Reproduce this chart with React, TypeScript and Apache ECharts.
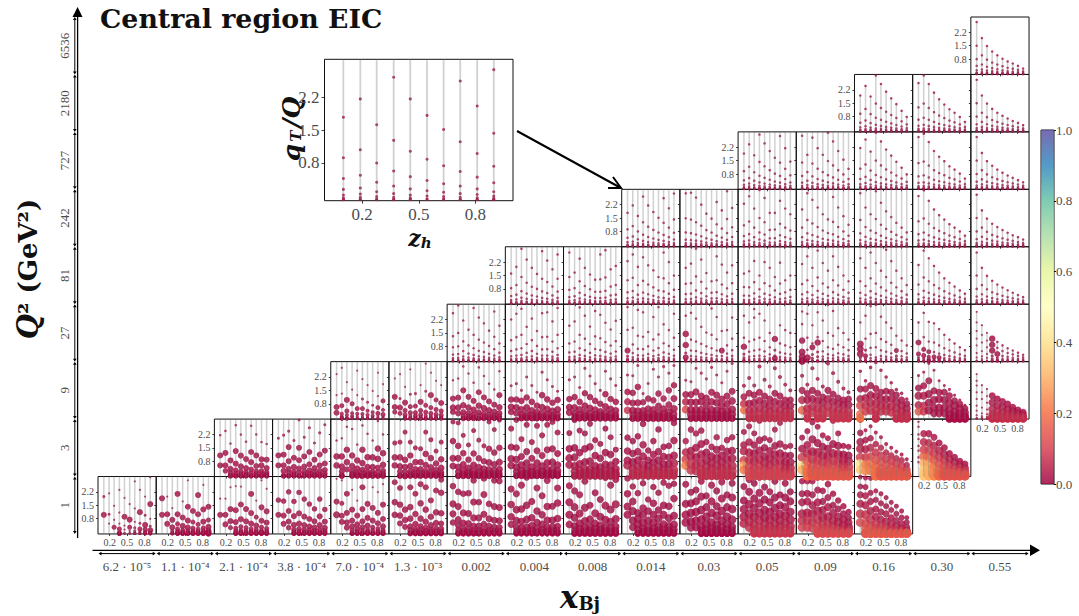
import React, { useEffect, useRef } from "react";
import * as echarts from "echarts";

const zBins = [0.1, 0.19, 0.277, 0.367, 0.455, 0.544, 0.632, 0.72, 0.81, 0.898];
const xLabels = ["6.2 · 10⁻⁵","1.1 · 10⁻⁴","2.1 · 10⁻⁴","3.8 · 10⁻⁴","7.0 · 10⁻⁴","1.3 · 10⁻³","0.002","0.004","0.008","0.014","0.03","0.05","0.09","0.16","0.30","0.55"];
const q2Labels = ["1","3","9","27","81","242","727","2180","6536"];
const panelTicks = [0.2, 0.5, 0.8];
const qtTicks = [0.8, 1.5, 2.2];
const colorbarTicks = [0, 0.2, 0.4, 0.6, 0.8, 1];
const spectral = ["#9e0142","#d53e4f","#f46d43","#fdae61","#fee08b","#ffffbf","#e6f598","#abdda4","#66c2a5","#3288bd","#5e4fa2"];
const rowStarts = [0, 2, 4, 6, 7, 9, 11, 13, 15];
const lineStopCols = [[12,13],[12,13,14],[13,14,15],[14,15],[14,15],[14,15],[13,14,15],[13,14,15],[15]];
// lowest qT/Q bins (hundredths), crowded against the bottom of the panels
const bottomRungs = [6, 3, 2];

// qT/Q (in hundredths), one list per zh bin
const row0 = [
[[195,100],[212,103,54],[147,74,35],[230,112,54,26],[188,90,44,23],[156,75,35,16],[275,133,63,32,16],[230,114,56,26,13],[195,98,47,25,12],[296,156,79,40,19,10]],
[[186,100],[195,103,53],[135,74,35,17],[209,103,53,26,13],[170,86,42,20,10],[280,142,70,33,16,8],[120,62,30,15,8],[203,103,50,25,12],[256,128,64,31,16,8],[142,73,37,18,9]],
[[184,100],[184,100,50],[244,130,67,33],[250,124,62,30,15],[247,154,77,38,19,9],[130,66,33,16,8],[209,109,54,27,13],[174,88,44,22,11],[280,139,69,35,17,9],[236,118,59,29,15,7]],
[[177,100],[172,96,53],[220,120,65,33],[170,93,47,23,12],[217,108,54,27,13],[182,91,46,22,11],[156,78,39,20,10],[131,66,33,17,8],[182,92,46,23,11],[128,64,32,16,8]],
[[288,169,100],[280,160,95,63],[210,110,60,33],[230,127,70,40,20],[174,96,50,26,13],[244,130,66,35,17],[157,84,44,22,11],[244,136,70,35,18],[218,110,56,28,14],[260,153,78,40,20,10]],
[[270,166,100],[240,153,96,55],[300,127,73,37],[244,140,80,40,20],[210,104,52,26,13],[260,160,80,40,20,10],[244,127,64,32,16],[175,90,45,23,11],[227,113,57,28,14],[283,215,108,54,27,13]],
[[250,157,105,60],[220,143,75,45,22],[210,110,57,29,15],[213,107,55,28,14],[280,167,84,42,21,10],[166,84,42,21,10],[290,206,103,52,26,13],[157,79,40,20,10],[280,143,72,36,18,9],[276,138,69,35,17,9]],
[[235,154,90,50],[210,127,70,36,18],[255,130,65,33,17],[296,150,76,38,19,10],[170,85,43,22,11],[240,120,60,30,15],[200,100,50,25,13],[280,143,72,36,18,9],[145,72,36,18,9],[240,162,81,40,20,10]],
[[252,166,100,50],[225,140,85,42,21],[205,107,55,28,14],[275,137,68,34,17],[150,76,38,19,10],[215,108,54,27,13],[180,90,45,23,11],[295,148,74,37,18,9],[255,128,64,32,16],[285,155,78,39,20,10]],
[[290,210,143,100],[248,170,120,70,35],[213,110,80,50,25],[265,135,100,60,30,15],[180,120,70,35,18],[245,160,100,60,30,15],[215,125,80,40,20,10],[268,150,100,50,25,12],[252,145,82,41,20,10],[262,185,95,50,25,12]],
[[260,157,100,60],[218,160,110,65,33],[230,170,115,70,35],[275,195,125,75,38,19],[200,140,90,50,25],[255,170,110,60,30,15],[225,145,95,50,25,12],[272,185,120,70,35,17],[205,140,90,50,25],[265,190,130,75,38,19]],
[[248,175,130,90,55],[285,220,155,105,65,33],[265,185,135,90,50,25],[296,215,160,110,70,35,18],[245,180,125,85,50,25],[220,165,115,75,40,20],[275,190,135,90,50,25],[205,150,105,70,40,20],[265,190,140,95,55,28],[220,170,115,75,40,20]],
[[275,210,165,105,70,35],[276,212,170,110,70,35],[276,205,150,105,60,30],[295,230,165,120,75,40,20],[225,170,125,85,50,25],[260,190,140,90,50,25],[210,150,110,70,40,20],[175,130,90,60,30,15],[145,105,75,45,25,12],[115,85,60,35,18,9]],
[[297,248,205,158,105,60],[292,245,200,150,100,55,28],[290,215,170,120,75,40,20],[225,178,130,90,50,25],[210,160,115,75,40,20],[190,145,105,65,35,18],[165,125,85,50,25],[145,105,70,40,20],[120,85,55,30,15],[85,60,35,18,9]],
];
const row1 = [
[[216,110,58],[238,123,58,30],[172,84,40,20],[268,133,67,33,17],[219,109,53,27,13],[182,91,44,22,11],[265,128,75,37,18],[220,110,55,28,14],[180,90,58,29,15],[170,88,44,22,11]],
[[200,110,58],[216,114,58,29],[237,154,80,40,20],[188,98,50,25,12],[295,150,85,42,21],[205,105,52,26,13],[255,128,64,32,16],[175,88,44,22,11],[228,115,58,29,14],[270,135,68,34,17]],
[[188,105,58],[200,105,52,26],[260,140,75,37],[248,110,55,28,14],[167,84,42,21,10],[267,140,70,35,18],[223,101,50,25,13],[188,100,50,25,12],[290,146,92,46,23],[220,122,61,30,15]],
[[175,100,58],[180,100,53,26],[232,87,50,25],[180,110,55,28,14],[150,75,38,19,9],[145,75,38,19,9],[232,118,60,30,15],[192,96,48,24,12],[133,68,34,17,9],[180,90,45,22,11]],
[[285,185,95,55],[280,160,95,50,25],[215,122,62,31,15],[165,88,44,22,11],[240,120,60,30,15],[190,95,48,24,12],[160,80,40,20,10],[285,145,73,36,18],[245,125,63,31,16],[295,150,75,38,19,9]],
[[250,154,93,58],[296,150,89,50,25],[195,105,60,30,15],[270,130,70,35,18],[180,95,50,25,12],[265,135,70,35,18],[215,110,55,28,14],[270,140,72,36,18,9],[285,145,75,38,19,9],[230,120,60,30,15]],
[[227,145,96,61],[295,150,100,55,28],[240,125,65,33,17],[225,145,75,38,19],[275,155,80,40,20,10],[190,110,55,28,14],[170,95,48,24,12],[250,125,63,31,16],[205,115,58,29,14],[140,78,40,20,10]],
[[203,133,84,58],[185,120,75,40,20],[210,130,85,50,25],[275,166,105,60,30,15],[136,85,55,30,15],[185,115,75,40,20],[246,130,85,50,25],[155,105,65,35,18],[160,100,65,35,18],[280,188,110,70,35,18]],
[[185,127,90,58],[245,135,105,65,33],[225,150,100,60,30],[240,170,115,70,35,18],[180,125,85,50,25],[155,105,70,40,20],[205,140,95,55,28],[150,110,75,45,22],[190,130,90,50,25],[205,135,95,55,28]],
[[233,165,133,84,58,35],[262,180,125,85,50,25],[225,165,120,80,45,22],[290,190,135,90,55,28],[200,150,105,70,40,20],[190,135,95,60,30,15],[245,160,115,75,40,20],[280,170,120,80,45,22],[155,110,75,45,22],[160,110,75,45,22]],
[[203,145,100,58,35],[237,165,120,80,45,22],[282,195,130,90,50,25],[260,175,125,85,50,25],[215,155,110,75,40,20],[200,145,105,70,40,20],[290,170,120,80,45,22],[225,160,115,75,40,20],[160,115,80,50,25],[155,110,80,50,25]],
[[290,228,180,145,100,66,35],[242,190,142,100,62,30],[262,200,150,105,65,32],[230,170,125,85,50,25],[205,150,110,75,40,20],[170,125,90,55,28],[150,110,80,50,25],[130,95,65,38,19],[115,85,55,30,15],[90,60,35,18,9]],
[[286,260,220,196,160,135,100,75],[224,180,140,105,70,38,18],[224,175,135,100,65,35,18],[205,160,120,85,50,25],[175,135,100,65,35,18],[150,115,85,55,28],[120,90,60,35,18],[100,75,50,28,14],[80,60,40,22,11],[65,45,30,15]],
];
const row2 = [
[[235,125,63,33],[268,133,70,28,14],[193,100,42,21],[154,80,30,15,8],[253,125,55,28,14],[209,105,55,27,13],[177,88,44,22,11],[147,72,36,18,9],[242,120,60,30,15],[182,95,48,24,12]],
[[212,116,63,37],[235,107,60,30],[168,86,45,22,11],[260,130,65,33,16],[133,68,34,17,8],[177,90,45,22,11],[290,145,72,36,18],[242,125,60,30,15],[200,100,50,25,12],[177,84,42,21,10]],
[[203,107,60,37],[212,112,60,30],[275,150,72,36,18],[238,116,60,30,15],[190,95,48,24,12],[270,140,70,35,18],[225,113,57,28,14],[185,92,46,23,11],[155,75,38,19,9],[250,125,62,31,15]],
[[174,102,63,37],[185,102,60,30],[150,95,50,25,13],[220,113,60,30,15],[175,90,45,23,11],[140,70,35,18,9],[245,125,62,31,15],[205,103,52,26,13],[170,85,42,21,11],[145,100,50,25,12]],
[[205,105,62,35],[220,115,60,30,15],[165,90,50,25,12],[265,135,70,35,18],[225,115,58,29,14],[185,95,48,24,12],[150,80,40,20,10],[250,130,65,33,16],[210,105,53,26,13],[175,90,45,23,11]],
[[230,142,91,46],[226,137,84,45,22],[280,168,85,42,21],[133,88,45,22,11],[186,107,54,27,13],[260,98,50,25,13],[220,133,68,34,17],[274,107,54,27,14],[240,150,75,38,19],[280,177,107,54,27]],
[[203,128,90,50],[195,128,88,48,24],[265,142,88,48,24],[240,120,90,48,24],[210,110,75,40,20],[270,140,90,48,24],[230,125,85,45,22],[190,105,70,38,19],[250,120,80,42,21],[290,145,95,50,25]],
[[174,116,80,46],[215,135,80,45,22],[175,125,85,48,24],[275,140,95,55,28],[205,120,80,45,22],[170,105,70,40,20],[265,135,90,50,25],[220,120,80,45,22],[180,100,70,40,20],[150,100,70,40,20]],
[[226,150,100,46],[180,133,100,55,28],[265,150,105,65,33],[210,135,95,55,28],[170,115,85,50,25],[290,150,105,65,33],[240,130,90,50,25],[195,110,80,45,22],[160,100,75,40,20],[140,105,75,40,20]],
[[250,157,105,70,26],[200,157,110,70,40],[270,175,125,85,45],[295,160,120,80,45,22],[255,140,105,70,40],[220,145,105,70,40],[190,140,105,65,35],[155,125,90,55,28],[135,100,70,40,20],[105,80,55,30,15]],
[[227,162,122,73,40],[245,174,122,70,40],[290,200,131,85,45],[255,148,100,60,30],[200,140,105,60,30],[175,140,100,60,30],[155,122,85,50,25],[125,96,70,40,20],[100,78,55,30,15],[72,55,35,18,9]],
[[235,200,175,140,105,70,44,20],[177,140,105,60,30,15],[157,120,85,50,25,12],[122,87,52,26,13],[105,70,40,20,10],[92,62,35,18,9],[78,52,30,15],[61,42,24,12],[47,32,18,9],[35,22,12,6]],
];
const row3 = [
[[253,133,75,37,18,9],[293,150,80,40,20,10],[215,106,55,27,13,7],[167,85,42,21,10],[280,140,70,35,17,9],[230,115,57,28,14,7],[200,100,50,25,12],[162,82,41,20,10],[262,130,65,32,16,8],[188,95,47,23,12,6]],
[[220,112,56,28,14,7],[250,128,64,32,16,8],[276,140,70,35,17,9],[182,92,46,23,11,6],[225,112,56,28,14,7],[160,82,41,20,10],[253,128,64,32,16,8],[258,130,65,32,16,8],[210,105,52,26,13],[280,140,70,35,18,9]],
[[188,95,48,24,12,6],[210,105,52,26,13,7],[283,140,70,35,18,9],[240,120,60,30,15,8],[183,92,46,23,11,6],[265,132,66,33,16,8],[245,122,61,30,15,8],[203,102,51,25,13],[168,84,42,21,11],[213,107,53,27,13,7]],
[[285,166,58,28,14,7],[177,90,45,22,11,6],[270,135,67,33,16,8],[258,130,65,32,16,8],[155,80,40,20,10],[233,116,58,29,15,7],[285,142,71,35,18,9],[195,96,48,24,12],[165,82,41,20,10],[250,125,62,31,15,8]],
[[240,145,87,45,22,11],[255,115,58,29,14,7],[225,105,55,27,13,7],[182,93,46,23,12,6],[152,80,40,20,10],[278,140,70,35,18,9],[233,117,58,29,14,7],[160,58,29,14,7],[165,85,42,21,11],[230,120,60,30,15,7]],
[[240,125,78,39,20,10],[205,105,52,26,13,7],[275,230,115,58,29,14],[250,125,63,31,16,8],[215,108,54,27,14,7],[300,150,75,38,19,9],[118,60,30,17,9],[190,95,48,24,12],[165,85,42,21,11],[150,75,38,19,9]],
[[262,196,110,50,25],[250,125,62,20,10],[190,95,75,37,18],[258,128,100,50,25],[215,108,54,27,13],[296,150,75,38,19],[265,135,67,33,17],[175,88,44,22,11],[150,75,38,19,10],[115,60,30,15,8]],
[[205,92,66,40,20],[240,120,60,30,15],[290,145,72,36,18],[296,150,75,22,11],[235,118,59,30,15],[205,103,52,26,13],[175,88,44,22,11],[135,58,29,15,7],[110,55,28,14,7],[85,43,22,11,6]],
[[205,100,40,20,10],[255,128,64,32,16],[208,105,52,26,13],[200,100,50,25,12],[170,85,42,21,11],[140,70,35,18,9],[115,58,29,15,7],[95,48,24,12,6],[75,38,19,10],[60,30,15,8]],
[[260,205,160,120,85,45,22],[190,140,100,55,28,14],[150,110,75,40,20],[120,88,58,30,15],[103,72,40,20,10],[85,55,30,15,8],[70,45,25,13],[58,38,20,10],[47,30,15,8],[36,22,12,6]],
];
const row4 = [
[[160,84,43,21,11,6],[195,100,50,25,12,6],[290,142,68,34,17,8],[233,112,56,28,14,7],[190,91,46,23,11,6],[158,80,40,20,10,5],[277,133,67,33,16,8],[228,116,58,29,14,7],[182,92,46,23,11,6],[260,133,66,33,16,8]],
[[270,142,75,37,18,9],[165,84,42,21,10,5],[238,120,60,30,15,7],[190,95,48,24,12,6],[155,78,39,20,10],[128,65,33,16,8],[260,130,65,32,16,8],[282,140,70,35,18,9],[182,92,46,23,11,6],[200,100,50,25,13,6]],
[[225,125,62,31,15,8],[260,138,69,35,17,9],[195,100,50,25,12,6],[245,122,61,30,15,8],[203,103,52,26,13,6],[177,88,44,22,11,6],[142,72,36,18,9],[270,135,67,33,17,8],[220,110,55,28,14,7],[150,76,38,19,10]],
[[190,107,53,26,13,7],[212,110,55,28,14,7],[290,145,72,36,18,9],[233,117,58,29,15,7],[163,82,41,20,10],[120,60,30,15,8],[250,125,63,31,16,8],[207,103,52,26,13,6],[165,83,41,21,10],[203,110,55,27,14,7]],
[[160,90,45,22,11,6],[172,88,44,22,11,6],[226,115,57,28,14,7],[150,78,39,20,10],[220,110,55,28,14,7],[190,95,48,24,12,6],[142,72,36,18,9],[217,108,54,27,14,7],[125,62,31,15,8],[150,75,38,19,9]],
[[210,105,52,26,13,7],[250,125,63,31,16,8],[190,95,48,24,12,6],[280,140,70,35,18,9],[215,108,54,27,14],[175,88,44,22,11],[250,125,63,31,15],[195,98,49,25,12],[150,75,38,19,10],[120,60,30,15,8]],
[[240,120,60,30,15,8],[190,95,48,24,12,6],[270,135,68,34,17,8],[215,108,54,27,14],[175,88,44,22,11],[285,142,71,35,18],[225,112,56,28,14],[175,88,44,22,11],[135,68,34,17,8],[100,50,25,13]],
[[205,103,52,26,13,6],[280,140,70,35,18,9],[240,120,60,30,15,8],[200,100,50,25,13],[165,83,41,21,10],[135,68,34,17,8],[112,56,28,14,7],[92,46,23,12],[72,36,18,9],[55,28,14,7]],
[[270,150,80,40,20,10],[190,100,52,26,13,6],[148,78,40,20,10],[122,62,32,16,8],[103,53,27,14,7],[87,44,22,11],[73,37,19,9],[60,31,16,8],[48,25,12,6],[37,19,10]],
];
const row5 = [
[[177,91,47,24,12,6],[216,108,54,27,14,7],[161,80,39,19,9,4],[262,128,63,31,15,7],[216,105,51,25,12,6],[181,88,43,21,10,4],[151,74,36,18,9,4],[254,125,62,31,15,7],[201,100,50,25,13,6],[278,143,73,38,19,10,5]],
[[279,149,75,37,19,9],[282,142,71,35,18,9],[257,128,64,32,16,8],[220,110,55,28,14,7],[173,87,44,22,11,6],[147,74,37,18,9,5],[234,117,58,29,15,7],[190,95,48,24,12,6],[290,145,72,36,18,9],[203,102,51,25,13,6]],
[[225,112,56,28,14,7],[264,132,66,33,16,8],[200,100,50,25,13,6],[296,150,75,38,19,9],[255,128,64,32,16,8],[177,88,44,22,11,6],[177,90,45,22,11,6],[240,120,60,30,15,8],[200,100,50,25,13],[170,85,42,21,11,5]],
[[195,100,50,25,13,6],[280,140,70,35,18,9],[245,122,61,30,15,8],[205,103,52,26,13,6],[170,85,42,21,11,5],[143,72,36,18,9],[260,130,65,32,16,8],[205,103,52,26,13],[160,80,40,20,10],[115,58,29,15,7]],
[[280,140,70,35,18,9],[205,103,52,26,13,6],[170,85,42,21,11,5],[290,145,72,36,18,9],[230,115,58,29,14,7],[185,93,46,23,12],[155,78,39,20,10],[125,62,31,16,8],[100,50,25,13],[75,38,19,10]],
[[265,133,66,33,17,8],[295,148,74,37,18,9],[240,120,60,30,15,8],[195,98,49,25,12],[165,83,41,21,10],[142,71,36,18,9],[118,59,30,15,7],[100,50,25,13],[80,40,20,10],[58,29,15,7]],
[[272,150,80,40,20,10],[190,100,52,26,13,6],[147,78,40,20,10],[120,62,32,16,8],[103,53,27,14,7],[87,44,22,11],[73,37,19,9],[60,31,16,8],[50,25,13,6],[38,19,10]],
];
const row6 = [
[[187,95,47,24,12,6],[235,118,59,30,15,7],[178,89,45,22,11,6],[286,143,71,36,18,9],[240,120,60,30,15,8],[200,100,50,25,13,6],[165,82,41,21,10,5],[278,139,70,35,17,9],[215,107,54,27,13,7],[145,73,36,18,9,5]],
[[280,140,70,35,18,9],[180,90,45,23,11,6],[270,135,68,34,17,8],[215,108,54,27,14,7],[180,90,45,23,11,6],[296,148,74,37,18,9],[250,125,62,31,16,8],[200,100,50,25,13],[155,78,39,20,10],[107,54,27,14,7]],
[[216,108,54,27,14,7],[260,130,65,33,16,8],[197,98,49,25,12,6],[296,150,75,38,19,9],[250,125,63,31,16,8],[208,104,52,26,13],[176,88,44,22,11],[144,72,36,18,9],[113,57,28,14,7],[78,39,20,10]],
[[273,137,68,34,17,9],[290,145,73,36,18,9],[247,124,62,31,15,8],[200,100,50,25,13],[170,85,42,21,11],[147,74,37,18,9],[120,60,30,15,8],[103,52,26,13],[82,41,20,10],[56,28,14,7]],
[[273,150,80,40,20,10],[190,100,52,26,13,6],[147,78,40,20,10],[123,63,32,16,8],[103,53,27,14,7],[87,44,22,11],[72,37,19,9],[60,31,16,8],[48,25,12,6],[37,19,10]],
];
const row7 = [
[[190,95,48,24,12,6],[240,120,60,30,15,8],[185,93,46,23,12,6],[295,148,74,37,18,9],[250,125,63,31,16,8],[210,105,53,26,13],[175,88,44,22,11],[145,73,36,18,9],[110,55,28,14,7],[78,39,20,10]],
[[255,128,64,32,16,8],[295,148,74,37,18,9],[250,125,63,31,16,8],[205,103,52,26,13],[170,85,42,21,11],[143,72,36,18,9],[118,59,30,15,8],[100,50,25,13],[78,39,20,10],[52,26,13,7]],
[[272,150,80,40,20,10],[190,100,52,26,13,6],[148,77,40,20,10],[120,62,32,16,8],[100,52,27,14,7],[84,43,22,11],[70,36,18,9],[57,30,15,8],[47,24,12,6],[35,18,9]],
];
const row8 = [
[[274,150,80,45,22,10],[190,100,52,26,13,6],[148,77,40,20,10],[120,62,33,17,8],[100,52,27,14,7],[82,43,22,11],[68,35,18,9],[57,30,15,8],[45,24,12,6],[31,16,8]],
];
const rowsY = [row0, row1, row2, row3, row4, row5, row6, row7, row8];

// Marker diameters: a number (whole panel), a list (by rung) or a list of lists (by zh bin; last entry repeats)
const S = 2.5;
const sizes0 = [
[[3,6],[2,3,2],[2,2,5],[2,2,2,5],[2,6,2,2],[2,6,5,2],[2,2,2,3,3],[2,6,3,5,3],[2,3,6,5,4],[2,6,2,3,6,4]],
[[6,6],[2,6,6],[2,6,6,4],[6,6,5,5,5],[2,6,6,5,5],[2,6,6,6,5,5],[6,5,5,5,5],[6,6,5,5,5],[2,6,6,5,5,5],[6,5,6,6,6]],
[[2,6],[2,6,6],[2,6,6,5],[2,6,6,5,5],[2,6,6,5,5,5],[6,6,5,5,5],[6,6,6,5,5],[2,5,6,5,5],[2,6,6,5,5,5],[2,6,6,5,5,5]],
[5.5,6,6,5.5,5,5],
[[2,6,7],[2,5,6,6],[6,6,6,6],[2,6,6,6,5],[2,6,6,6,5],[6,6,6,6,5],[6,6,6,5,5],[2,6,6,5,5],[2,6,6,5,5],[2,6,6,6,5,5]],
[6,6.5,6.5,6,6,5.5],[6.5,7,7,6.5,6,6],[7,7.5,7.5,7,6.5,6],[7,8,8,7.5,7,6.5],[6.5,7.5,8,8,7.5,7,6.5],[7,8,8.5,8.5,8,7.5,7],[7,8,8.5,9,9,8.5,8],[6.5,7,8,9,9,9,8.5],[5,6,7,8,9,9,9],
];
const sizes1 = [
[2.5,6,6,5.5,5.5,5],[3,6,6,6,5.5,5],[2.5,6.5,6.5,6,6,5.5],[5,6.5,6.5,6,6,5.5],[5,6.5,7,7,6.5,6],[6,7,7.5,7.5,7,6.5,6],[6,7.5,8,8,8,7.5,7],[6.5,7.5,8,8.5,8.5,8,7],[6.5,8,8.5,9,9,8.5,8],[6,7.5,8.5,9,9,9,8.5],[6,8,9,9.5,9.5,9.5,9],[4,6.5,8,8.5,9,9.5,9],
[[2.5],[7,8,8.5,9,9,9]],
];
const sizes2 = [
[[2,2,6,6],[2,2,5,4],[2,6,5,4],[2,5,4,4,3],[2,2,5,4,3],[2,3,5,4,3],[2,3,4,4,3],[2,3,4,4,3],[2,2,5,5,3],[2,5,4,5,3]],
[[2,6,6,5],[2,3,6,5],[2,6,5,5,4],[2,3,5,5,4],[3,5,5,5,4],[2,6,5,5,4],[2,3,5,5,4],[2,6,5,5,4],[2,5,5,5,4],[2,6,5,5,4]],
[2.5,6,6.5,6,5.5,5],[3,6.5,7,6.5,6,5.5],[3,6.5,7,7,6.5,6],[3,6.5,7,7.5,7,6.5],[3,7,7.5,8,8,7,6.5],[4,7,8,8,8,7.5,7],[4,7,8,8.5,8.5,8,7.5],[3.5,7,8,8.5,8.5,8],[3,7,8,8,8,8],
[[2.2],[2.2],[2.2],[7,7.5,8,8]],
];
const sizes3 = [
2.5,2.5,2.5,
[[2.5,2.5,6,3,3],[2.5]],
[[2.5,6.5,6.5,3,6,3],[2.5],[2.5],[2.5],[2.5],[2.5],[2.5],[2.5,6,2.5],[2.5]],
[[2.5,2.5,6.5,3],[2.5],[2.5],[2.5],[2.5],[2.5],[6.5,3,3,6,3],[2.5]],
[[2.5,2.5,6.5,7,7],[2.5,2.5,2.5,7,3],[2.5,2.5,6,3],[2.5,2.5,6.5,3],[2.5]],
[[2.5,7,7,7,3],[2.5,2.5,3,5,3],[2.5],[2.5],[2.5],[2.5],[2.5],[2.5,5,3],[2.5]],
[[2.5,6,5,3],[2.5,2.5,5,5,3],[2.5,2.5,5,4],[2.5,2.5,2.5,5,3],[2.5,2.5,2.5,5,3],[2.5]],
[[2.2],[2.2],[2.2],[6.5,6.5,6.5,3],[2.5,2.5,6,3],[2.5]],
];
const rowsSize: any[] = [sizes0, sizes1, sizes2, sizes3];

// Colour values on the 0-1 scale, same shapes as the sizes; panels absent here sit at the base value
const C = 0.015;
const colors0: any = { 11: [.01,.01,.02,.03,.05,.07,.08], 12: [.02,.02,.03,.04,.07,.1,.12], 13: [.02,.02,.03,.04,.08,.12,.15] };
const colors1: any = {
  8: [.01,.01,.02,.03,.04,.04],
  9: [.01,.02,.02,.04,.06,.06,.06],
  10: [[.03,.05,.1,.22],[.02,.03,.05,.08],[.02,.02,.03,.05,.07]],
  11: [[.02,.03,.05,.1,.3,.22],[.02,.03,.04,.07,.1,.12],[.02,.02,.03,.05,.08,.1,.1]],
  12: [[.02,.03,.1,.4,.3],[.02,.03,.06,.14,.2,.2],[.02,.02,.04,.08,.12,.15,.15]],
  13: [[.02,.02,.03,.05,.1,.4,.35],[.02,.03,.04,.1,.22,.25],[.02,.03,.06,.12,.2,.22],[.02,.04,.08,.14,.18,.2],[.02,.05,.09,.13,.15]],
  14: [[.02],[.04,.06,.1,.18,.3,.35,.35],[.03,.06,.1,.18,.28,.3],[.03,.05,.09,.15,.22,.24],[.02,.05,.09,.14,.18],[.02,.04,.08,.12,.14]],
};
const colors2: any = {
  9: [[.02,.02,.04,.08],[.02]],
  10: [[.02,.02,.05,.12,.12],[.02]],
  11: [[.02,.03,.08,.2,.2],[.02,.02,.03,.05,.07]],
  12: [[.02,.03,.06,.18,.18],[.02,.02,.03,.06,.08]],
  13: [[.02,.02,.05,.12,.2],[.02,.03,.04,.07,.1],[.02,.02,.03,.05,.07]],
  14: [[.02,.02,.03,.05,.15],[.02,.02,.04,.07,.08],[.02]],
  15: [[.02],[.02],[.02],[.02,.03,.05,.07]],
};
const rowsColor: any[] = [colors0, colors1, colors2];

const hexToRgb = (h: string) => [1, 3, 5].map((i) => parseInt(h.slice(i, i + 2), 16));
function colorAt(v: number) {
  const t = Math.min(Math.max(v, 0), 1) * (spectral.length - 1);
  const i = Math.min(Math.floor(t), spectral.length - 2);
  const a = hexToRgb(spectral[i]);
  const b = hexToRgb(spectral[i + 1]);
  const c = a.map((x, k) => Math.round(x + (b[k] - x) * (t - i)));
  return `rgb(${c[0]},${c[1]},${c[2]})`;
}
function pick(spec: any, col: number, rung: number, dflt: number) {
  if (spec == null) return dflt;
  if (typeof spec === "number") return spec;
  const list = Array.isArray(spec[0]) ? spec[Math.min(col, spec.length - 1)] : spec;
  return list[Math.min(rung, list.length - 1)];
}

const LEFT = 98, COLW = 58.19, TOP = 17, ROWH = 57.44;
const SERIF = "'Liberation Serif', serif";
const TICKC = "#4d4d4d";

function panelPieces(opts: { grid: any; ys: number[][]; size: any; color: any; stop: boolean; showX: boolean; showY: boolean; idx: number; fs: number; lineW: number; dflt: number; tick: number }) {
  const { grid, ys, size, color, stop, showX, showY, idx, fs, lineW, dflt, tick } = opts;
  const line: any[] = [];
  const pts: any[] = [];
  ys.forEach((col, ci) => {
    const z = zBins[ci];
    line.push([z, 0], [z, stop ? col[0] / 100 : 3], [z, "-"]);
    const last = col[col.length - 1];
    const full = last < 30 ? col.concat(bottomRungs.filter((b) => b < last * 0.7)) : col;
    full.forEach((y, ri) => pts.push([z, y / 100, pick(size, ci, ri, dflt), pick(color, ci, ri, C)]));
  });
  const axisBase = (values: number[], show: boolean) => ({
    type: "value",
    axisLine: { show: false },
    splitLine: { show: false },
    axisTick: { show: true, customValues: values, length: tick, lineStyle: { color: "#111", width: 0.8 } },
    axisLabel: { show, customValues: values, fontSize: fs, color: TICKC, fontFamily: SERIF, margin: tick + 2, formatter: (v: number) => v.toFixed(1), hideOverlap: false },
  });
  return {
    grid: { ...grid, show: true, borderColor: "#111", borderWidth: 1, backgroundColor: "transparent" },
    xAxis: { ...axisBase(panelTicks, showX), min: 0, max: 1, gridIndex: idx },
    yAxis: { ...axisBase(qtTicks, showY), min: 0, max: 3, gridIndex: idx },
    series: [
      { type: "line", xAxisIndex: idx, yAxisIndex: idx, data: line, symbol: "none", silent: true, clip: true, connectNulls: false, lineStyle: { color: "rgba(120,120,120,0.34)", width: lineW } },
      { type: "scatter", xAxisIndex: idx, yAxisIndex: idx, data: pts, clip: true, silent: true, symbolSize: (v: number[]) => v[2], itemStyle: { opacity: 0.84, color: (p: any) => colorAt(p.value[3]) } },
    ],
  };
}

function buildOption() {
  const grids: any[] = [];
  const xAxes: any[] = [];
  const yAxes: any[] = [];
  const series: any[] = [];

  // frame carrying the x_Bj and Q^2 bin labels
  grids.push({ left: LEFT, top: TOP, width: COLW * 16, height: ROWH * 9, show: false });
  xAxes.push({ type: "category", gridIndex: 0, data: xLabels, offset: 16, axisLine: { show: false }, axisTick: { show: false }, axisLabel: { interval: 0, fontSize: 13, color: TICKC, fontFamily: SERIF, margin: 10 } });
  yAxes.push({ type: "category", gridIndex: 0, data: q2Labels, offset: 21, axisLine: { show: false }, axisTick: { show: false }, axisLabel: { interval: 0, rotate: 90, fontSize: 13, color: TICKC, fontFamily: SERIF, margin: 6 } });
  series.push({ type: "line", xAxisIndex: 0, yAxisIndex: 0, data: [], silent: true });

  rowsY.forEach((panels, r) => {
    panels.forEach((ys, p) => {
      const c = rowStarts[r] + p;
      const idx = grids.length;
      const showX = r === 0 || c > rowStarts[r - 1] + rowsY[r - 1].length - 1;
      const piece = panelPieces({
        grid: { left: LEFT + c * COLW, top: TOP + (8 - r) * ROWH, width: COLW, height: ROWH },
        ys,
        size: rowsSize[r] ? rowsSize[r][p] : S,
        color: rowsColor[r] ? rowsColor[r][c] : null,
        stop: lineStopCols[r].includes(c),
        showX,
        showY: p === 0,
        idx,
        fs: 10,
        lineW: 1.5,
        dflt: S,
        tick: 2,
      });
      grids.push(piece.grid); xAxes.push(piece.xAxis); yAxes.push(piece.yAxis); series.push(...piece.series);
    });
  });

  // enlarged copy of the panel at Q^2 = 242, x_Bj = 0.014
  const insetIdx = grids.length;
  const inset = panelPieces({
    grid: { left: 324.5, top: 59.3, width: 188.5, height: 141.4 },
    ys: row5[0], size: 3, color: null, stop: false, showX: true, showY: true, idx: insetIdx, fs: 17, lineW: 1.8, dflt: 3, tick: 3,
  });
  grids.push(inset.grid); xAxes.push(inset.xAxis); yAxes.push(inset.yAxis); series.push(...inset.series);

  // colour bar
  const cbIdx = grids.length;
  grids.push({ left: 1041, top: 130, width: 13, height: 354, show: true, borderColor: "#111", borderWidth: 1 });
  xAxes.push({ type: "category", gridIndex: cbIdx, data: ["v"], show: false });
  yAxes.push({ type: "value", gridIndex: cbIdx, min: 0, max: 1, position: "right", splitLine: { show: false }, axisLine: { show: false }, axisTick: { show: true, customValues: colorbarTicks, length: 2, lineStyle: { color: "#111" } }, axisLabel: { customValues: colorbarTicks, fontSize: 13, color: TICKC, fontFamily: SERIF, margin: 2, formatter: (v: number) => v.toFixed(1) } });
  series.push({
    type: "bar", xAxisIndex: cbIdx, yAxisIndex: cbIdx, data: [1], barWidth: "100%", silent: true,
    itemStyle: { opacity: 0.84, color: new echarts.graphic.LinearGradient(0, 1, 0, 0, spectral.map((c, i) => ({ offset: i / (spectral.length - 1), color: c }))) },
  });

  // hand-drawn axis arrows
  const g: any[] = [];
  const ink = { stroke: "#000", lineWidth: 1.3 };
  g.push({ type: "line", shape: { x1: 92.5, y1: 550.3, x2: 1031, y2: 550.3 }, style: ink });
  g.push({ type: "polygon", shape: { points: [[1030, 544.5], [1040, 550.3], [1030, 556]] }, style: { fill: "#000" } });
  g.push({ type: "line", shape: { x1: 77.6, y1: 538, x2: 77.6, y2: 16 }, style: ink });
  g.push({ type: "polygon", shape: { points: [[72.5, 17], [77.6, 7], [82.5, 17]] }, style: { fill: "#000" } });
  for (let c = 0; c < 16; c++) {
    const a = LEFT + c * COLW + 2, b = LEFT + (c + 1) * COLW - 2;
    g.push({ type: "line", shape: { x1: a, y1: 553.6, x2: b, y2: 553.6 }, style: { stroke: "#000", lineWidth: 1 } });
    g.push({ type: "polygon", shape: { points: [[a - 1.5, 553.6], [a + 1.5, 551.8], [a + 1.5, 555.4]] }, style: { fill: "#000" } });
    g.push({ type: "polygon", shape: { points: [[b + 1.5, 553.6], [b - 1.5, 551.8], [b - 1.5, 555.4]] }, style: { fill: "#000" } });
  }
  for (let r = 0; r < 9; r++) {
    const a = TOP + r * ROWH + 1.5, b = TOP + (r + 1) * ROWH - 1.5;
    g.push({ type: "line", shape: { x1: 74.8, y1: a, x2: 74.8, y2: b }, style: { stroke: "#000", lineWidth: 1 } });
    g.push({ type: "polygon", shape: { points: [[74.8, a - 1.5], [73, a + 1.5], [76.6, a + 1.5]] }, style: { fill: "#000" } });
    g.push({ type: "polygon", shape: { points: [[74.8, b + 1.5], [73, b - 1.5], [76.6, b - 1.5]] }, style: { fill: "#000" } });
  }
  g.push({ type: "line", shape: { x1: 517, y1: 131, x2: 620, y2: 187.5 }, style: { stroke: "#000", lineWidth: 2 } });
  g.push({ type: "polyline", shape: { points: [[608, 188], [621, 188], [613, 177]] }, style: { stroke: "#000", lineWidth: 2, fill: "none" } });

  const bold = "'DejaVu Serif', serif";
  g.push({ type: "text", x: 100, y: 5, style: { text: "Central region EIC", font: `bold 26.8px ${bold}`, fill: "#111" } });
  g.push({ type: "text", x: 28, y: 269, rotation: Math.PI / 2, style: { text: "{q|Q}{p|² (GeV²)}", align: "center", verticalAlign: "middle", rich: { q: { font: `italic bold 29px ${bold}`, fill: "#111" }, p: { font: `bold 26px ${bold}`, fill: "#111" } } } });
  g.push({ type: "text", x: 580, y: 597, style: { text: "{x|x}{b|Bj}", align: "center", verticalAlign: "middle", rich: { x: { font: `italic bold 31px ${bold}`, fill: "#111" }, b: { font: `bold 18px ${bold}`, fill: "#111", padding: [12, 0, 0, 0] } } } });
  g.push({ type: "text", x: 420, y: 238, style: { text: "{z|z}{h|h}", align: "center", verticalAlign: "middle", rich: { z: { font: `italic bold 22px ${bold}`, fill: "#111", lineHeight: 24 }, h: { font: `italic bold 15px ${bold}`, fill: "#111", verticalAlign: "bottom", lineHeight: 18 } } } });
  g.push({ type: "text", x: 291, y: 129, rotation: Math.PI / 2, style: { text: "{q|q}{t|T}{q|/Q}", align: "center", verticalAlign: "middle", rich: { q: { font: `italic bold 25px ${bold}`, fill: "#111" }, t: { font: `italic bold 15px ${bold}`, fill: "#111", padding: [10, 3, 0, 2] } } } });

  return { animation: false, backgroundColor: "#fff", grid: grids, xAxis: xAxes, yAxis: yAxes, series, graphic: { elements: g } };
}

export default function App() {
  const ref = useRef<HTMLDivElement>(null);
  useEffect(() => {
    const chart = echarts.init(ref.current!, undefined, { renderer: "svg" });
    chart.setOption(buildOption() as any);
    return () => chart.dispose();
  }, []);
  return <div ref={ref} style={{ position: "absolute", left: 0, top: 0, width: 1079, height: 616 }} />;
}
